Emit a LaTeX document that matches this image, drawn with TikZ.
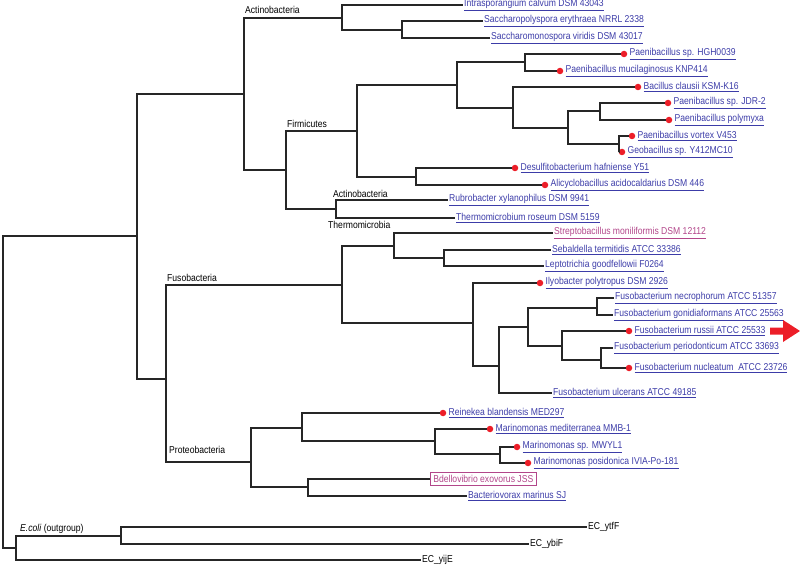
\documentclass[tikz,border=0pt]{standalone}
\usepackage{fontspec}
\setmainfont{Liberation Sans}[FakeStretch=0.86]
\usetikzlibrary{positioning}

\definecolor{linkblue}{RGB}{60,60,168}
\definecolor{linkpink}{RGB}{178,70,138}
\definecolor{hitred}{RGB}{236,30,40}
\newcommand{\lnk}[1]{\underline{#1}}

\tikzset{
  branch/.style={draw=black!85, line width=1.1pt},
  tip/.style={anchor=west, inner sep=1pt, text=linkblue, font=\fontsize{10}{11}\selectfont},
  hit/.style={circle, fill=hitred, inner sep=0pt, minimum size=6.5pt},
  clade/.style={anchor=base west, inner sep=0pt, font=\fontsize{10}{11}\selectfont},
  outtip/.style={anchor=west, inner sep=1pt, font=\fontsize{10}{11}\selectfont}
}

\begin{document}
\begin{tikzpicture}[x=1pt, y=-1pt]
\useasboundingbox (0,0) rectangle (800,577);

% inner nodes of the tree
\coordinate (root) at (3,392);
\coordinate (ing) at (137,236);
\coordinate (af) at (244,94);
\coordinate (act) at (342,18);
\coordinate (act2) at (402,30);
\coordinate (ft) at (286,170);
\coordinate (fir) at (357,131);
\coordinate (f1) at (457,85);
\coordinate (f1a) at (525,62);
\coordinate (f1b) at (513,108);
\coordinate (f1c) at (568,128);
\coordinate (f1d) at (600,111);
\coordinate (f1e) at (619,144);
\coordinate (f2) at (416,177);
\coordinate (at) at (336,209);
\coordinate (fp) at (166,379);
\coordinate (fus) at (342,285);
\coordinate (fa) at (394,246);
\coordinate (fb) at (444,258);
\coordinate (fc) at (473,323);
\coordinate (fd) at (499,366);
\coordinate (fe) at (528,327);
\coordinate (ff) at (597,308);
\coordinate (fg) at (562,346);
\coordinate (fh) at (601,360);
\coordinate (pro) at (251,462);
\coordinate (pa) at (302,428);
\coordinate (pb) at (435,441);
\coordinate (pc) at (500,454);
\coordinate (pd) at (308,487);
\coordinate (eco) at (16,548);
\coordinate (eb) at (121,536);

% red dots
\node[hit] (dHGH) at (624,54) {};
\node[hit] (dKNP) at (560,71) {};
\node[hit] (dKSM) at (638,87) {};
\node[hit] (dJDR) at (668,103) {};
\node[hit] (dPol) at (669,120) {};
\node[hit] (dVor) at (632,136) {};
\node[hit] (dGeo) at (622,152) {};
\node[hit] (dDes) at (515,168) {};
\node[hit] (dAli) at (545,185) {};
\node[hit] (dIly) at (540,283) {};
\node[hit] (dRus) at (629,331) {};
\node[hit] (dNuc) at (629,368) {};
\node[hit] (dRei) at (443,413) {};
\node[hit] (dMed) at (490,429) {};
\node[hit] (dMWY) at (517,447) {};
\node[hit] (dPos) at (528,463) {};

% leaves
\node[tip] (tInt) at (463,5) {\lnk{Intrasporangium calvum DSM 43043}};
\node[tip] (tEry) at (483,21) {\lnk{Saccharopolyspora erythraea NRRL 2338}};
\node[tip] (tVir) at (490,38) {\lnk{Saccharomonospora viridis DSM 43017}};
\node[tip, right=1pt of dHGH] (tHGH) {\lnk{Paenibacillus sp. HGH0039}};
\node[tip, right=1pt of dKNP] (tKNP) {\lnk{Paenibacillus mucilaginosus KNP414}};
\node[tip, right=1pt of dKSM] (tKSM) {\lnk{Bacillus clausii KSM-K16}};
\node[tip, right=1pt of dJDR] (tJDR) {\lnk{Paenibacillus sp. JDR-2}};
\node[tip, right=1pt of dPol] (tPol) {\lnk{Paenibacillus polymyxa}};
\node[tip, right=1pt of dVor] (tVor) {\lnk{Paenibacillus vortex V453}};
\node[tip, right=1pt of dGeo] (tGeo) {\lnk{Geobacillus sp. Y412MC10}};
\node[tip, right=1pt of dDes] (tDes) {\lnk{Desulfitobacterium hafniense Y51}};
\node[tip, right=1pt of dAli] (tAli) {\lnk{Alicyclobacillus acidocaldarius DSM 446}};
\node[tip] (tRub) at (448,200) {\lnk{Rubrobacter xylanophilus DSM 9941}};
\node[tip] (tThe) at (455,218) {\lnk{Thermomicrobium roseum DSM 5159}};
\node[tip, text=linkpink] (tStr) at (553,233) {\lnk{Streptobacillus moniliformis DSM 12112}};
\node[tip] (tSeb) at (551,250) {\lnk{Sebaldella termitidis ATCC 33386}};
\node[tip] (tLep) at (544,266) {\lnk{Leptotrichia goodfellowii F0264}};
\node[tip, right=1pt of dIly] (tIly) {\lnk{Ilyobacter polytropus DSM 2926}};
\node[tip] (tNec) at (614,298) {\lnk{Fusobacterium necrophorum ATCC 51357}};
\node[tip] (tGon) at (613,315) {\lnk{Fusobacterium gonidiaformans ATCC 25563}};
\node[tip, right=1pt of dRus] (tRus) {\lnk{Fusobacterium russii ATCC 25533}};
\node[tip] (tPer) at (613,348) {\lnk{Fusobacterium periodonticum ATCC 33693}};
\node[tip, right=1pt of dNuc] (tNuc) {\lnk{Fusobacterium nucleatum\ \ ATCC 23726}};
\node[tip] (tUlc) at (552,393) {\lnk{Fusobacterium ulcerans ATCC 49185}};
\node[tip, right=1pt of dRei] (tRei) {\lnk{Reinekea blandensis MED297}};
\node[tip, right=1pt of dMed] (tMed) {\lnk{Marinomonas mediterranea MMB-1}};
\node[tip, right=1pt of dMWY] (tMWY) {\lnk{Marinomonas sp. MWYL1}};
\node[tip, right=1pt of dPos] (tPos) {\lnk{Marinomonas posidonica IVIA-Po-181}};
\node[tip, text=linkpink, draw=linkpink, line width=0.7pt, inner xsep=3pt, inner ysep=2.5pt] (tBde) at (430,479) {Bdellovibrio exovorus JSS};
\node[tip] (tBac) at (467,496) {\lnk{Bacteriovorax marinus SJ}};
\node[outtip] (tYtf) at (587,527) {EC\_ytfF};
\node[outtip] (tYbi) at (529,544) {EC\_ybiF};
\node[outtip] (tYij) at (421,560) {EC\_yijE};

% branches
\draw[branch] (root) |- (ing) (root) |- (eco);
\draw[branch] (ing) |- (af) (ing) |- (fp);
\draw[branch] (af) |- (act) (af) |- (ft);
\draw[branch] (act) |- (tInt.west) (act) |- (act2);
\draw[branch] (act2) |- (tEry.west) (act2) |- (tVir.west);
\draw[branch] (ft) |- (fir) (ft) |- (at);
\draw[branch] (fir) |- (f1) (fir) |- (f2);
\draw[branch] (f1) |- (f1a) (f1) |- (f1b);
\draw[branch] (f1a) |- (dHGH) (f1a) |- (dKNP);
\draw[branch] (f1b) |- (dKSM) (f1b) |- (f1c);
\draw[branch] (f1c) |- (f1d) (f1c) |- (f1e);
\draw[branch] (f1d) |- (dJDR) (f1d) |- (dPol);
\draw[branch] (f1e) |- (dVor) (f1e) |- (dGeo);
\draw[branch] (f2) |- (dDes) (f2) |- (dAli);
\draw[branch] (at) |- (tRub.west) (at) |- (tThe.west);
\draw[branch] (fp) |- (fus) (fp) |- (pro);
\draw[branch] (fus) |- (fa) (fus) |- (fc);
\draw[branch] (fa) |- (tStr.west) (fa) |- (fb);
\draw[branch] (fb) |- (tSeb.west) (fb) |- (tLep.west);
\draw[branch] (fc) |- (dIly) (fc) |- (fd);
\draw[branch] (fd) |- (fe) (fd) |- (tUlc.west);
\draw[branch] (fe) |- (ff) (fe) |- (fg);
\draw[branch] (ff) |- (tNec.west) (ff) |- (tGon.west);
\draw[branch] (fg) |- (dRus) (fg) |- (fh);
\draw[branch] (fh) |- (tPer.west) (fh) |- (dNuc);
\draw[branch] (pro) |- (pa) (pro) |- (pd);
\draw[branch] (pa) |- (dRei) (pa) |- (pb);
\draw[branch] (pb) |- (dMed) (pb) |- (pc);
\draw[branch] (pc) |- (dMWY) (pc) |- (dPos);
\draw[branch] (pd) |- (tBde.west) (pd) |- (tBac.west);
\draw[branch] (eco) |- (eb) (eco) |- (tYij.west);
\draw[branch] (eb) |- (tYtf.west) (eb) |- (tYbi.west);

% clade names
\node[clade] (cAct) at (245,14) {Actinobacteria};
\node[clade] (cFir) at (287,128) {Firmicutes};
\node[clade] (cAct2) at (333,198) {Actinobacteria};
\node[clade] (cThe) at (328,229) {Thermomicrobia};
\node[clade] (cFus) at (167,282) {Fusobacteria};
\node[clade] (cPro) at (169,453) {Proteobacteria};
\node[clade] (cEco) at (20,531) {\textit{E.coli} (outgroup)};

% arrow at russii
\fill[hitred] (770,327.5) -- (783,327.5) -- (783,320) -- (800,331)
  -- (783,342) -- (783,334.5) -- (770,334.5) -- cycle;
\end{tikzpicture}
\end{document}
